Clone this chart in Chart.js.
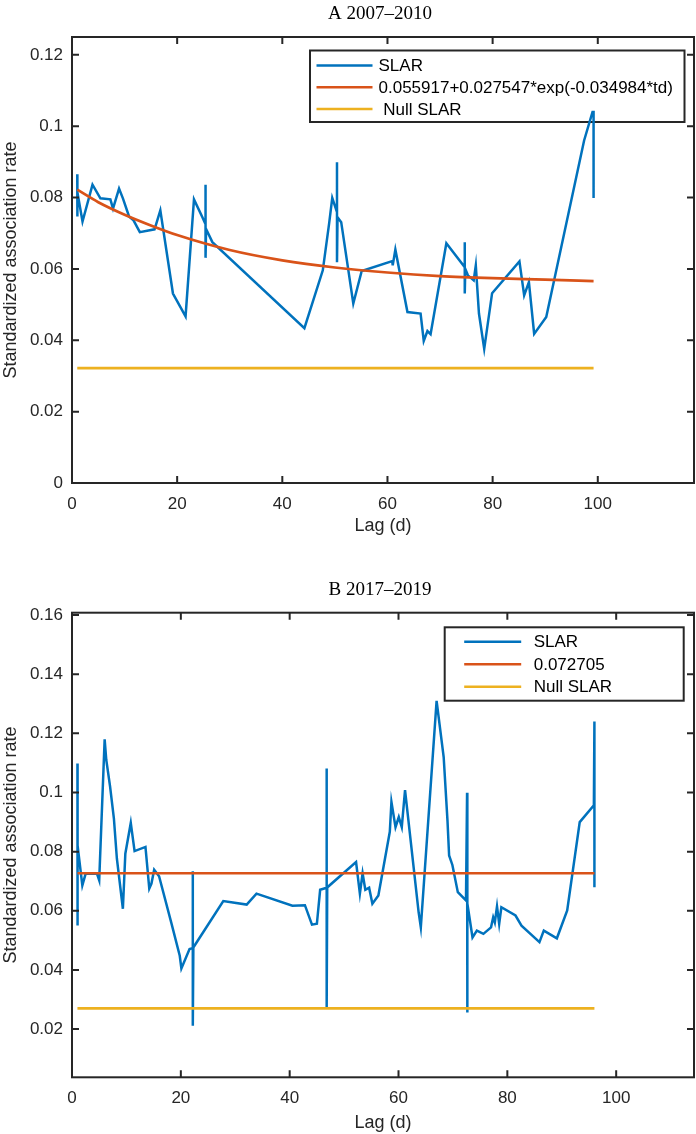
<!DOCTYPE html>
<html>
<head>
<meta charset="utf-8">
<script src="https://cdn.jsdelivr.net/npm/chart.js@4.4.1/dist/chart.umd.min.js"></script>
<style>
  html, body { margin: 0; padding: 0; background: #fff; }
  .panel { position: absolute; left: 0; width: 696px; height: 567px; }
  #panelA { top: 0; }
  #panelB { top: 567px; }
</style>
</head>
<body>
<div class="panel" id="panelA"><canvas id="chartA"></canvas></div>
<div class="panel" id="panelB"><canvas id="chartB"></canvas></div>
<script>
// Painel A 2007–2010
const lagA = [1, 1, 1.05, 2, 3.9, 5.4, 7.3, 7.8, 8.95, 9.7, 10.85, 11.7, 12.9, 15.7, 16.8,
  19.2, 21.6, 23.2, 24.8, 25.4, 25.4, 25.4, 25.5, 26.7, 44.2, 47.7, 48.9, 49.5, 50.4, 50.4,
  50.4, 50.5, 51.2, 53.5, 55.1, 60.9, 61.0, 61.5, 63.8, 66.3, 66.9, 67.6, 68.2, 71.2, 74.7,
  74.7, 74.7, 74.8, 75.3, 76.4, 76.8, 77.4, 78.4, 79.9, 85.1, 86.0, 86.9, 87.9, 90.2, 97.4,
  99.0, 99.2, 99.2];
const slarA = [0.0865, 0.0747, 0.0815, 0.0733, 0.0836, 0.0798, 0.0795, 0.0769, 0.0825, 0.0797,
  0.0747, 0.0736, 0.0703, 0.0711, 0.0764, 0.0531, 0.0467, 0.0795, 0.0745, 0.0725, 0.0836,
  0.0631, 0.0712, 0.0675, 0.0434, 0.0596, 0.0727, 0.0799, 0.0759, 0.0899, 0.0619, 0.0745,
  0.0731, 0.0503, 0.0594, 0.0622, 0.0610, 0.0654, 0.0479, 0.0475, 0.0398, 0.0426, 0.0417,
  0.0672, 0.0605, 0.0675, 0.0531, 0.0600, 0.0582, 0.0568, 0.0610, 0.0475, 0.0376, 0.0532,
  0.0621, 0.0526, 0.0563, 0.0418, 0.0465, 0.0960, 0.1040, 0.1040, 0.0799];
const fitLagA = [1, 5, 10, 15, 20, 30, 40, 50, 60, 70, 80, 90, 99.2];
const fitA = [0.0822, 0.0787, 0.0752, 0.0722, 0.0695, 0.0653, 0.0624, 0.0604, 0.0590,
  0.0580, 0.0574, 0.0570, 0.0566];
const nullLagA = [1, 99.2];
const nullA = [0.0322, 0.0322];
const yTicksA = [0, 0.02, 0.04, 0.06, 0.08, 0.1, 0.12];

// Painel B 2017–2019
const lagB = [1, 1, 1.05, 1.9, 2.5, 4.6, 5.0, 6.0, 6.3, 7.0, 7.7, 8.25, 9.35, 9.8, 10.8,
  11.5, 13.5, 14.2, 14.6, 15.1, 16.0, 18.3, 19.8, 20.1, 21.6, 22.2, 22.2, 22.2, 22.3, 27.8,
  32.1, 33.9, 40.5, 42.8, 44.1, 45.0, 45.6, 46.8, 46.8, 46.8, 46.9, 52.2, 52.9, 53.4, 53.9,
  54.6, 55.2, 56.3, 58.4, 58.7, 59.45, 60.05, 60.6, 61.2, 63.7, 64.1, 67.0, 68.3, 69.0, 69.3,
  69.9, 70.9, 72.4, 72.6, 72.6, 72.7, 73.6, 74.4, 75.6, 77.0, 77.4, 77.7, 78.1, 78.5, 78.9,
  81.5, 82.6, 85.9, 86.7, 89.1, 91.0, 93.3, 95.9, 96.0, 96.0];
const slarB = [0.1098, 0.0550, 0.0821, 0.0686, 0.0725, 0.0725, 0.0703, 0.1180, 0.1110,
  0.1020, 0.0912, 0.0776, 0.0607, 0.0793, 0.0897, 0.0802, 0.0816, 0.0675, 0.0692, 0.0739,
  0.0717, 0.0556, 0.0448, 0.0405, 0.0471, 0.0474, 0.0734, 0.0211, 0.0476, 0.0633, 0.0621,
  0.0658, 0.0617, 0.0619, 0.0553, 0.0556, 0.0671, 0.0678, 0.1081, 0.0273, 0.0679, 0.0765,
  0.0658, 0.0727, 0.0671, 0.0678, 0.0624, 0.0652, 0.0867, 0.0968, 0.0883, 0.0917, 0.0883,
  0.1008, 0.0595, 0.0544, 0.1310, 0.1120, 0.0905, 0.0787, 0.0755, 0.0663, 0.0635, 0.0999,
  0.0256, 0.0625, 0.0510, 0.0533, 0.0522, 0.0544, 0.0578, 0.0561, 0.0615, 0.0556, 0.0612,
  0.0584, 0.0550, 0.0494, 0.0533, 0.0507, 0.0601, 0.0900, 0.0957, 0.1240, 0.0680];
const meanLagB = [1, 96];
const meanB = [0.0727, 0.0727];
const nullLagB = [1, 96];
const nullB = [0.027, 0.027];
const yTicksB = [0.02, 0.04, 0.06, 0.08, 0.1, 0.12, 0.14, 0.16];

const xTicks = [0, 20, 40, 60, 80, 100];

const azul = "#0072BD";
const laranja = "#D95319";
const amarelo = "#EDB120";
const eixo = "#262626";
const sans = "'Liberation Sans', Arial, sans-serif";

function pts(xs, ys) {
  return xs.map((x, i) => ({ x: x, y: ys[i] }));
}

// Moldura, marcas internas, título e legenda ao estilo MATLAB
const moldura = {
  id: "moldura",
  beforeDatasetsDraw(chart, args, opts) {
    const { ctx, chartArea: a } = chart;
    const lg = opts.legend;
    const bx = a.right - lg.right - lg.width;
    const by = a.top + lg.top;
    ctx.save();
    ctx.fillStyle = "#fff";
    ctx.fillRect(bx, by, lg.width, lg.height);
    ctx.strokeStyle = eixo;
    ctx.lineWidth = 2;
    ctx.strokeRect(bx, by, lg.width, lg.height);
    ctx.font = "17px " + sans;
    ctx.textAlign = "left";
    ctx.textBaseline = "middle";
    chart.data.datasets.forEach((ds, i) => {
      const y = by + lg.first + i * lg.step;
      ctx.strokeStyle = ds.borderColor;
      ctx.lineWidth = 2.5;
      ctx.beginPath();
      ctx.moveTo(bx + lg.lineStart, y);
      ctx.lineTo(bx + lg.lineEnd, y);
      ctx.stroke();
      ctx.fillStyle = "#000";
      ctx.fillText(ds.label, bx + lg.textStart, y + 1);
    });
    ctx.restore();
  },
  afterDatasetsDraw(chart, args, opts) {
    const { ctx, chartArea: a, scales } = chart;
    ctx.save();
    ctx.strokeStyle = eixo;
    ctx.lineWidth = 2;
    ctx.strokeRect(a.left, a.top, a.right - a.left, a.bottom - a.top);
    const tl = 7;
    ctx.beginPath();
    scales.x.ticks.forEach((t, i) => {
      const px = scales.x.getPixelForTick(i);
      ctx.moveTo(px, a.bottom);
      ctx.lineTo(px, a.bottom - tl);
      ctx.moveTo(px, a.top);
      ctx.lineTo(px, a.top + tl);
    });
    scales.y.ticks.forEach((t, i) => {
      const py = scales.y.getPixelForTick(i);
      ctx.moveTo(a.left, py);
      ctx.lineTo(a.left + tl, py);
      ctx.moveTo(a.right, py);
      ctx.lineTo(a.right - tl, py);
    });
    ctx.stroke();
    ctx.fillStyle = "#000";
    ctx.font = "19px 'Liberation Serif', 'Times New Roman', serif";
    ctx.textAlign = "center";
    ctx.textBaseline = "middle";
    ctx.fillText(opts.title, (a.left + a.right) / 2 - 3, a.top - 23);
    ctx.restore();
  },
};

function criarPainel(id, cfg) {
  return new Chart(document.getElementById(id), {
    type: "scatter",
    data: { datasets: cfg.datasets },
    options: {
      responsive: true,
      maintainAspectRatio: false,
      animation: false,
      layout: { padding: { top: cfg.top, right: 2, left: 0, bottom: 0 } },
      elements: { point: { radius: 0, hoverRadius: 0 } },
      plugins: {
        legend: { display: false },
        tooltip: { enabled: false },
        moldura: { title: cfg.title, legend: cfg.legend },
      },
      scales: {
        x: {
          type: "linear",
          min: 0,
          max: cfg.xMax,
          afterBuildTicks: (s) => {
            s.ticks = xTicks.map((v) => ({ value: v }));
          },
          afterFit: (s) => {
            s.height = cfg.xHeight;
          },
          grid: { display: false, drawTicks: false },
          border: { display: false },
          ticks: {
            color: eixo,
            font: { family: sans, size: 17 },
            padding: 11,
            maxRotation: 0,
            autoSkip: false,
          },
          title: {
            display: true,
            text: "Lag (d)",
            color: eixo,
            font: { family: sans, size: 18 },
            padding: { top: 0, bottom: cfg.xTitlePad },
          },
        },
        y: {
          type: "linear",
          min: cfg.yMin,
          max: cfg.yMax,
          afterBuildTicks: (s) => {
            s.ticks = cfg.yTicks.map((v) => ({ value: v }));
          },
          afterFit: (s) => {
            s.width = 72;
          },
          grid: { display: false, drawTicks: false },
          border: { display: false },
          ticks: {
            color: eixo,
            font: { family: sans, size: 17 },
            padding: 9,
            autoSkip: false,
            callback: (v) => String(+v.toFixed(2)),
          },
          title: {
            display: true,
            text: "Standardized association rate",
            color: eixo,
            font: { family: sans, size: 18 },
            padding: { top: 0, bottom: 0 },
          },
        },
      },
    },
    plugins: [moldura],
  });
}

const charts = {};

charts.a = criarPainel("chartA", {
  title: "A 2007–2010",
  top: 37,
  xHeight: 84,
  xTitlePad: 30,
  xMax: 118.3,
  yMin: 0,
  yMax: 0.125,
  yTicks: yTicksA,
  legend: { right: 9.5, top: 13.5, width: 374.5, height: 71.5, first: 15, step: 21.7,
    lineStart: 6.5, lineEnd: 62.5, textStart: 68.5 },
  datasets: [
    { label: "SLAR", data: pts(lagA, slarA), showLine: true, borderColor: azul,
      borderWidth: 2.5, order: 3 },
    { label: "0.055917+0.027547*exp(-0.034984*td)", data: pts(fitLagA, fitA), showLine: true,
      borderColor: laranja, borderWidth: 2.7, cubicInterpolationMode: "monotone", order: 2 },
    { label: " Null SLAR", data: pts(nullLagA, nullA), showLine: true, borderColor: amarelo,
      borderWidth: 2.7, order: 1 },
  ],
});

charts.b = criarPainel("chartB", {
  title: "B 2017–2019",
  top: 45.7,
  xHeight: 56.7,
  xTitlePad: 0,
  xMax: 114.3,
  yMin: 0.0037,
  yMax: 0.1608,
  yTicks: yTicksB,
  legend: { right: 10.3, top: 14.6, width: 239, height: 73.4, first: 14.4, step: 22.5,
    lineStart: 19.5, lineEnd: 76.5, textStart: 89 },
  datasets: [
    { label: "SLAR", data: pts(lagB, slarB), showLine: true, borderColor: azul,
      borderWidth: 2.5, order: 3 },
    { label: "0.072705", data: pts(meanLagB, meanB), showLine: true, borderColor: laranja,
      borderWidth: 2.7, order: 2 },
    { label: "Null SLAR", data: pts(nullLagB, nullB), showLine: true, borderColor: amarelo,
      borderWidth: 2.7, order: 1 },
  ],
});
</script>
</body>
</html>
